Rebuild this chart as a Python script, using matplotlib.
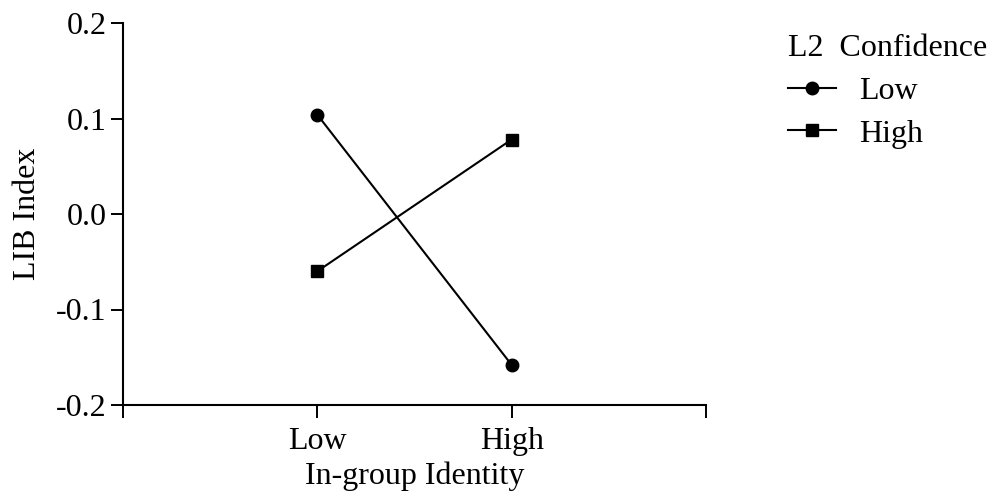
import numpy as np
import matplotlib.pyplot as plt

plt.rcParams['font.family'] = ['Liberation Serif', 'DejaVu Serif']

identity = ['Low', 'High']
x_pos = [1, 2]
conf_low = [0.104, -0.158]
conf_high = [-0.060, 0.078]

fig = plt.figure(figsize=(9.98, 5), dpi=100)
ax = fig.add_axes([0.1232, 0.19, 0.5842, 0.764])

ax.plot(x_pos, conf_low, color='black', lw=1.5, marker='o', markersize=9, label='Low')
ax.plot(x_pos, conf_high, color='black', lw=1.5, marker='s', markersize=8.5, label='High')

ax.set_xlim(0, 3)
ax.set_ylim(-0.2, 0.2)
ax.set_xticks([0, 1, 2, 3])
ax.set_xticklabels([''] + identity + [''])
ax.set_yticks([-0.2, -0.1, 0.0, 0.1, 0.2])
ax.set_yticklabels(['-0.2', '-0.1', '0.0', '0.1', '0.2'])
ax.tick_params(axis='both', direction='out', length=9, width=1.4, labelsize=23, colors='black')
ax.tick_params(axis='x', pad=7)
ax.tick_params(axis='y', pad=3)
ax.spines['top'].set_visible(False)
ax.spines['right'].set_visible(False)
ax.spines['left'].set_linewidth(1.5)
ax.spines['bottom'].set_linewidth(1.5)

ax.set_xlabel('In-group Identity', fontsize=23, labelpad=4)
ax.set_ylabel('LIB Index', fontsize=23, labelpad=10)

leg = fig.legend(loc='upper left', bbox_to_anchor=(0.79, 0.932), frameon=False,
                 title='L2  Confidence', fontsize=23, title_fontsize=23,
                 handlelength=1.5, handletextpad=0.7, labelspacing=0.42,
                 borderpad=0, borderaxespad=0)
leg._legend_box.align = 'left'

fig.savefig('out.png', dpi=100)
